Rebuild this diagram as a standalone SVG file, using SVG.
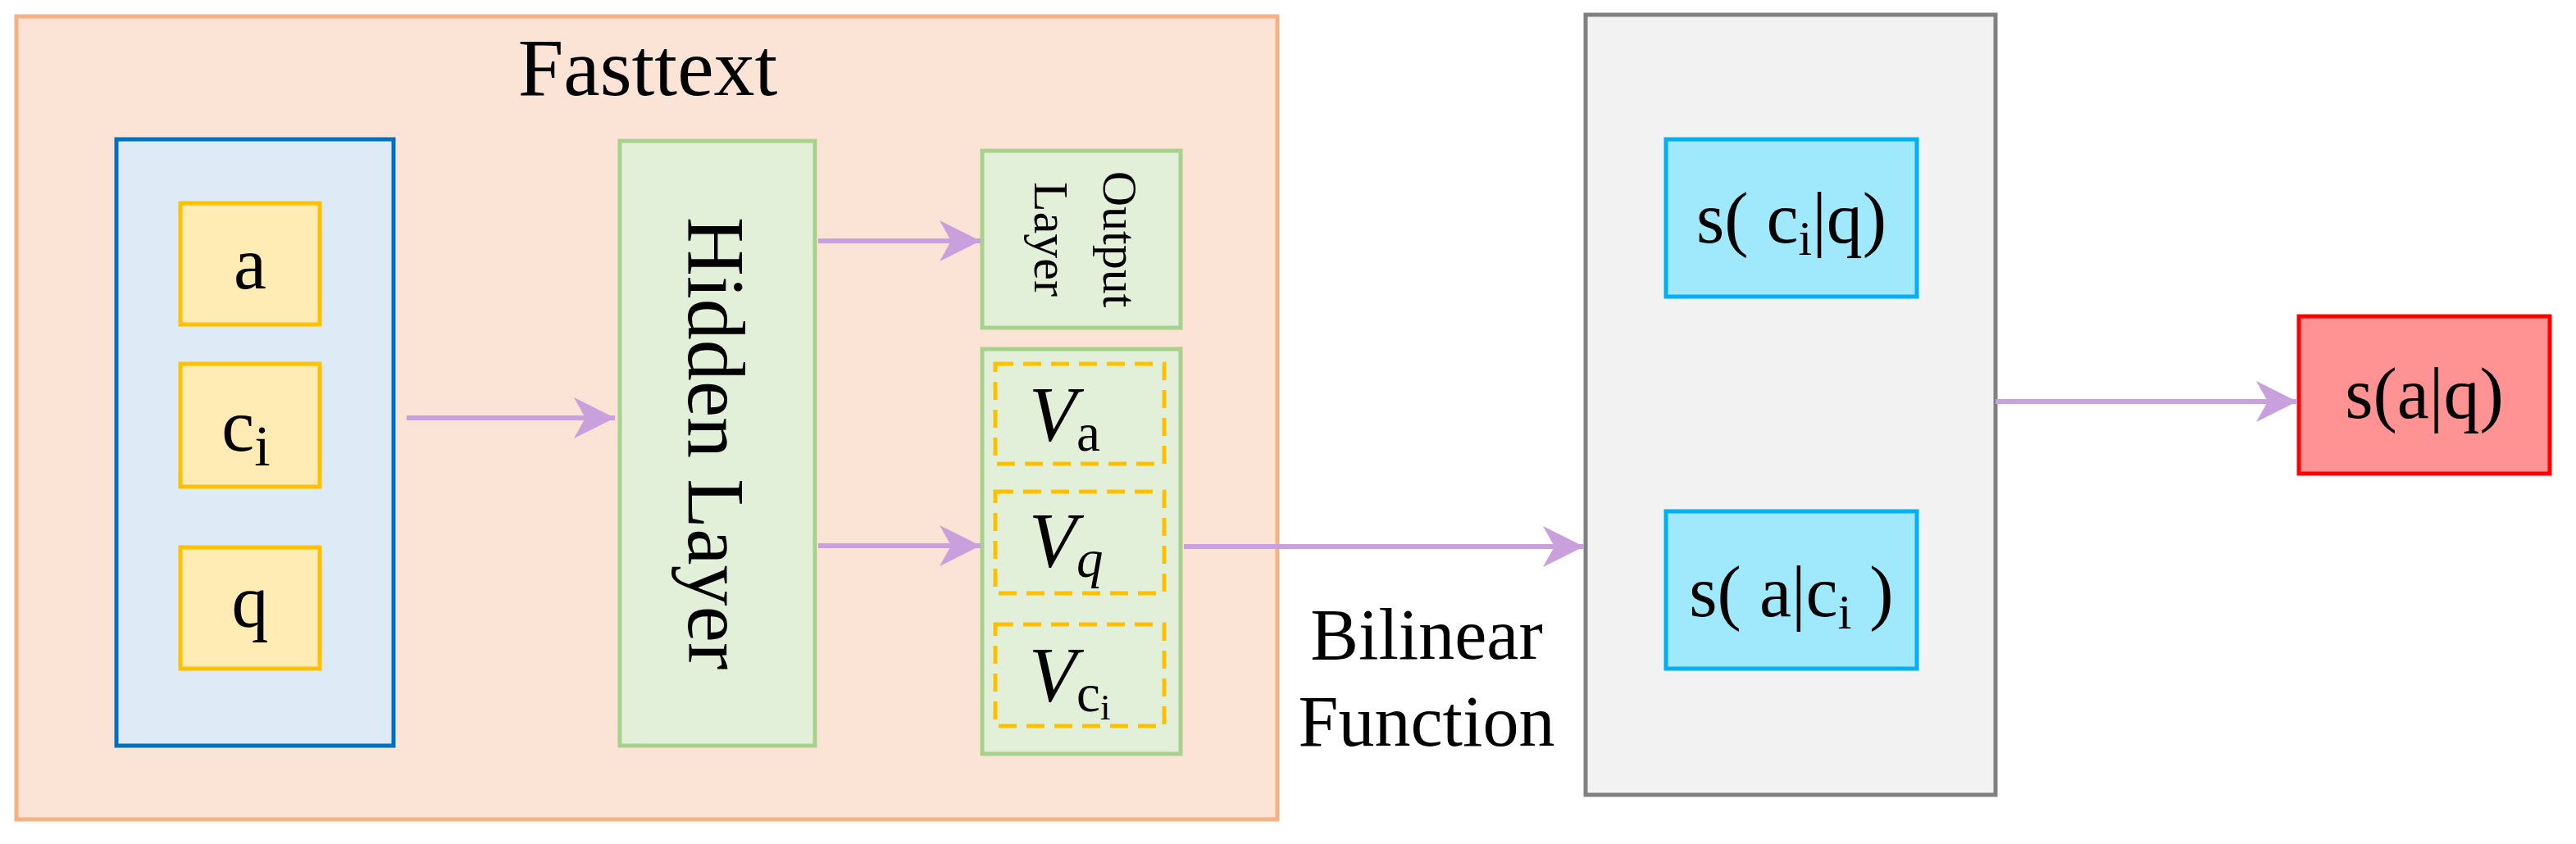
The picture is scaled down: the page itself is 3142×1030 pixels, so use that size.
<svg xmlns="http://www.w3.org/2000/svg" width="3142" height="1030" viewBox="0 0 3142 1030">
<style>
text{font-family:"Liberation Serif","Times New Roman",serif;fill:#000}
.c{stroke:#C9A0DC;stroke-width:6;fill:none}
.y{fill:#FFEBB3;stroke:#FFC000;stroke-width:5}
.d{fill:none;stroke:#FFC000;stroke-width:5;stroke-dasharray:22 12}
.g{fill:#E2F0D9;stroke:#A9D18E;stroke-width:5}
.b{fill:#A0E8FC;stroke:#00B0F0;stroke-width:5}
</style>
<defs>
<marker id="ah" markerUnits="userSpaceOnUse" markerWidth="60" markerHeight="60" refX="50" refY="25" orient="auto">
<path d="M0,0 L50,25 L0,50 L14,25 Z" fill="#C9A0DC"/>
</marker>
</defs>
<rect width="3142" height="1030" fill="#fff"/>
<g id="fasttext">
<rect x="20" y="20" width="1538" height="980" fill="#FBE3D5" stroke="#F4B183" stroke-width="5"/>
<text x="790" y="116" font-size="100" text-anchor="middle">Fasttext</text>
</g>
<g id="inputs">
<rect x="142" y="170" width="338" height="740" fill="#DEEBF7" stroke="#0070C0" stroke-width="5"/>
</g>
<g id="a"><rect class="y" x="220" y="248" width="170" height="148"/><text x="305" y="352" font-size="90" text-anchor="middle">a</text></g>
<g id="ci"><rect class="y" x="220" y="444" width="170" height="150"/><text x="300" y="550" font-size="90" text-anchor="middle">c<tspan font-size="70" dy="18">i</tspan></text></g>
<g id="q"><rect class="y" x="220" y="668" width="170" height="148"/><text x="305" y="765" font-size="90" text-anchor="middle">q</text></g>
<g id="hidden"><rect class="g" x="756" y="172" width="238" height="738"/><text transform="translate(840,541) rotate(90)" font-size="100" text-anchor="middle">Hidden Layer</text></g>
<g id="output"><rect class="g" x="1198" y="184" width="242" height="216"/>
<text transform="translate(1346,292) rotate(90)" font-size="60" text-anchor="middle">Output</text>
<text transform="translate(1262,292) rotate(90)" font-size="60" text-anchor="middle">Layer</text></g>
<g id="vectors"><rect class="g" x="1198" y="426" width="242" height="494"/>
<rect class="d" x="1214" y="444" width="206" height="122"/>
<rect class="d" x="1214" y="600" width="206" height="124"/>
<rect class="d" x="1214" y="762" width="206" height="124"/>
<text x="1255" y="538" font-size="95" font-style="italic">V<tspan font-style="normal" font-size="65" dy="12">a</tspan></text>
<text x="1255" y="692" font-size="95" font-style="italic">V<tspan font-size="65" dy="12">q</tspan></text>
<text x="1255" y="856" font-size="95" font-style="italic">V<tspan font-style="normal" font-size="65" dy="12">c</tspan><tspan font-style="normal" font-size="45" dy="10">i</tspan></text>
</g>
<g id="scores"><rect x="1934" y="18" width="500" height="952" fill="#F2F2F2" stroke="#808080" stroke-width="5"/></g>
<g id="sciq"><rect class="b" x="2032" y="170" width="306" height="192"/><text x="2185" y="296" font-size="88" text-anchor="middle">s( c<tspan font-size="60" dy="15">i</tspan><tspan dy="-15">|q)</tspan></text></g>
<g id="saci"><rect class="b" x="2032" y="624" width="306" height="192"/><text x="2185" y="752" font-size="88" text-anchor="middle">s( a|c<tspan font-size="60" dy="15">i</tspan><tspan dy="-15"> )</tspan></text></g>
<g id="saq"><rect x="2804" y="386" width="306" height="192" fill="#FF9393" stroke="#FF0000" stroke-width="5"/><text x="2957" y="510" font-size="88" text-anchor="middle">s(a|q)</text></g>
<g id="connectors">
<line class="c" x1="496" y1="510" x2="750" y2="510" marker-end="url(#ah)"/>
<line class="c" x1="998" y1="294" x2="1196" y2="294" marker-end="url(#ah)"/>
<line class="c" x1="998" y1="666" x2="1196" y2="666" marker-end="url(#ah)"/>
<line class="c" x1="1444" y1="667" x2="1932" y2="667" marker-end="url(#ah)"/>
<line class="c" x1="2434" y1="490" x2="2802" y2="490" marker-end="url(#ah)"/>
<text x="1740" y="804" font-size="88" text-anchor="middle">Bilinear</text>
<text x="1740" y="910" font-size="88" text-anchor="middle">Function</text>
</g>
</svg>
